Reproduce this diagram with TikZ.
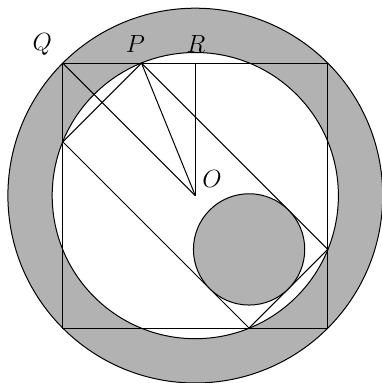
\documentclass[tikz,border=0pt]{standalone}
\begin{document}
\begin{tikzpicture}[x=1pt,y=1pt,line width=1pt,
  lbl/.style={font=\fontsize{27}{30}\selectfont}]
\def\s{132.5}
\def\a{53.8}
\useasboundingbox (-195.3,-187.4) rectangle (186.7,195.6);
\coordinate (O) at (0,0);
\coordinate (Q) at (-\s,\s);
\coordinate (Rt) at (0,\s);
\coordinate (P) at (-\a,\s);
\coordinate (L) at (-\s,\a);
\coordinate (B) at (\a,-\s);
\coordinate (Rv) at (\s,-\a);
\coordinate (C) at (\a,-\a);
\fill[black!30,even odd rule] (O) circle (187.4) (O) circle (143.1);
\draw (O) circle (187.4);
\draw (O) circle (143.1);
\draw (-\s,-\s) rectangle (\s,\s);
\draw (P) -- (L) -- (B) -- (Rv) -- cycle;
\filldraw[fill=black!30] (C) circle ({(\s-\a)/sqrt(2)});
\draw (Q) -- (O);
\draw (P) -- (O);
\draw (Rt) -- (O);
\node[lbl] (lq) at (-153,151.6) {$Q$};
\node[lbl] (lp) at (-60,151.6) {$P$};
\node[lbl] (lr) at (0.7,151.6) {$R$};
\node[lbl] (lo) at (16.7,16.6) {$O$};
\end{tikzpicture}
\end{document}
